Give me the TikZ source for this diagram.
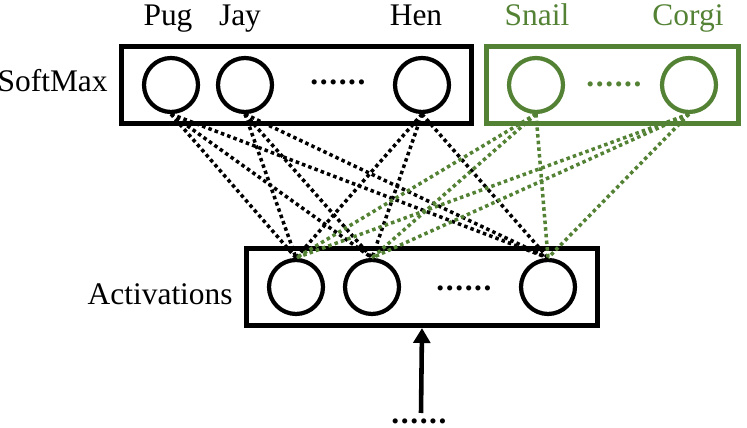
\documentclass[tikz,border=0pt]{standalone}
\usepackage{fontspec}
\setmainfont{Liberation Serif}
\usepackage{tikz}
\usetikzlibrary{arrows.meta,positioning,fit,calc}
\definecolor{leafgreen}{RGB}{84,130,53}
\newcommand{\sixdots}{\textbf{.\kern.9pt.\kern.9pt.\kern.9pt.\kern.9pt.\kern.9pt.}}

\begin{document}
\begin{tikzpicture}[x=0.02cm, y=-0.02cm,
                    every node/.style={font=\fontsize{17.9}{21}\selectfont},
                    unit/.style={circle, draw, line width=2.4pt,
                                 minimum size=1.08cm, inner sep=0pt},
                    layer/.style={draw, line width=2.8pt,
                                  inner xsep=0.41cm, inner ysep=0.19cm},
                    lbl/.style={inner sep=0pt, anchor=base},
                    wire/.style={line width=2pt, dash pattern=on 2pt off 1.8pt}]
  \useasboundingbox (0,0) rectangle (747,428);
  % softmax units (old classes)
  \node[unit] (pug) at (171,85) {};
  \node[unit] (jay) at (245,85) {};
  \node[unit] (hen) at (422,85) {};
  % new classes
  \node[unit, leafgreen] (snail) at (536,85) {};
  \node[unit, leafgreen] (corgi) at (689,85) {};
  % activation units
  \node[unit] (act1) at (296,287) {};
  \node[unit] (act2) at (372,287) {};
  \node[unit] (act3) at (548,287) {};
  % layer boxes
  \node[layer, fit=(pug)(jay)(hen)] (softbox) {};
  \node[layer, leafgreen, fit=(snail)(corgi)] (newbox) {};
  \node[layer, fit=(act1)(act2)(act3)] (actbox) {};
  % class names
  \node[lbl] (puglbl)   at (168,26) {Pug};
  \node[lbl] (jaylbl)   at (240,26) {Jay};
  \node[lbl] (henlbl)   at (416,26) {Hen};
  \node[lbl, leafgreen] (snaillbl) at (537,26) {Snail};
  \node[lbl, leafgreen] (corgilbl) at (688,26) {Corgi};
  \node[lbl, anchor=base east] (softlbl) at (108,92) {SoftMax};
  \node[lbl, anchor=base east] (actlbl)  at (233,305) {Activations};
  % elided units
  \node[lbl] (softdots) at (338,85) {\sixdots};
  \node[lbl, leafgreen] (newdots) at (614,87) {\sixdots};
  \node[lbl] (actdots) at (464,291) {\sixdots};
  \node[lbl] (indots) at (419,424) {\sixdots};
  % connections
  \foreach \s in {pug,jay,hen}
    \foreach \a in {act1,act2,act3}
      \draw[wire] (\s.south) -- (\a.north);
  \foreach \s in {snail,corgi}
    \foreach \a in {act1,act2,act3}
      \draw[wire, leafgreen] (\s.south) -- (\a.north);
  % input
  \coordinate (feed) at (421,413);
  \draw[-{Triangle[length=8.5pt,width=9.5pt]}, line width=2.6pt]
       (feed) -- (actbox.south);
\end{tikzpicture}
\end{document}
